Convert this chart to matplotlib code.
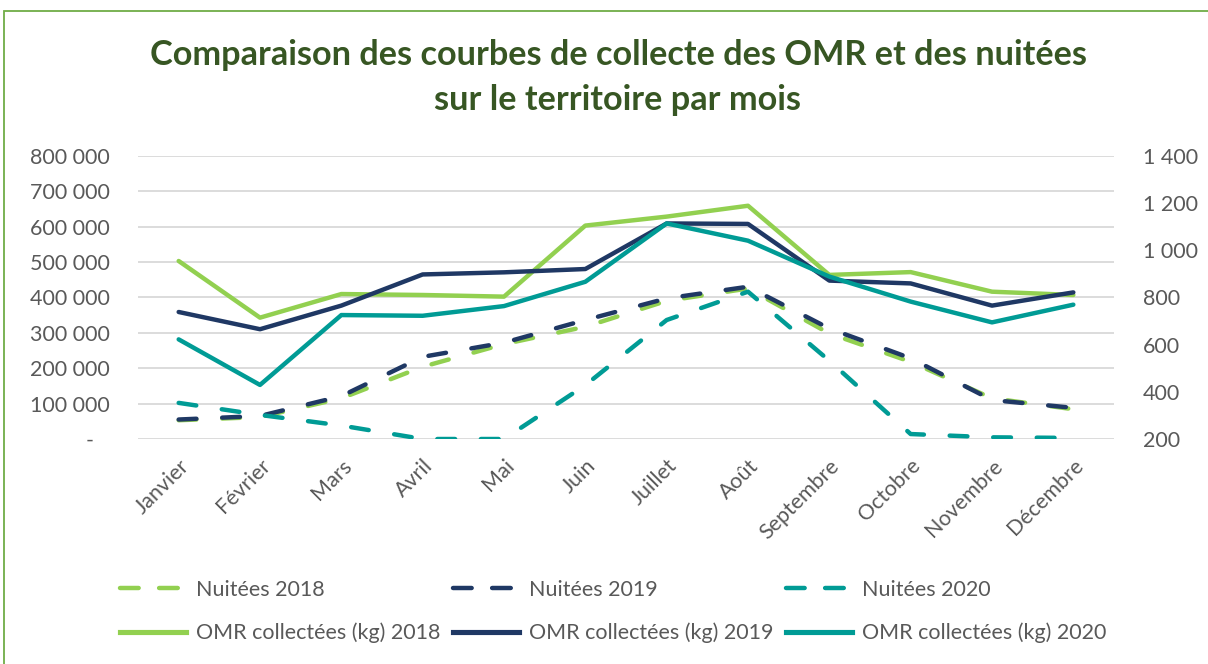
import numpy as np
import matplotlib.pyplot as plt
from matplotlib.lines import Line2D

plt.rcParams['font.family'] = ['Lato', 'DejaVu Sans']

mois = ["Janvier", "Février", "Mars", "Avril", "Mai", "Juin", "Juillet",
        "Août", "Septembre", "Octobre", "Novembre", "Décembre"]

# nuitées (axe de gauche)
nuitees_2018 = [53000, 62000, 115000, 204000, 268000, 317000, 390000,
                425000, 298000, 218000, 115000, 84000]
nuitees_2019 = [55000, 65000, 121000, 232000, 272000, 336000, 397000,
                430000, 312000, 228000, 110000, 88000]
nuitees_2020 = [102000, 68000, 38000, 0, 0, 152000, 336000,
                416000, 221000, 14000, 4700, 3000]

# OMR collectées (axe de droite)
omr_2018 = [954, 714, 814, 810, 803, 1104, 1142, 1188, 895, 907, 824, 810]
omr_2019 = [738, 665, 765, 897, 906, 920, 1113, 1111, 871, 859, 765, 821]
omr_2020 = [622, 429, 725, 722, 763, 866, 1113, 1040, 888, 782, 694, 769]

annees = ["2018", "2019", "2020"]
couleurs = ["#92D050", "#1F3864", "#009B95"]
gris = "#595959"

W, H = 1208, 664
fig = plt.figure(figsize=(W / 100, H / 100), dpi=100)

# cadre vert de la zone de graphique
fig.add_artist(plt.Rectangle((4 / W, -0.1), 1.2, 1 - 11 / H + 0.1,
                             transform=fig.transFigure, fill=False,
                             edgecolor="#70AD47", lw=1.3))

ax = fig.add_axes([138 / W, (H - 439) / H, (1114 - 138) / W, (439 - 155.7) / H])
ax2 = ax.twinx()

x = np.arange(len(mois))
dash = (4, 5.8)
for serie, c in zip([nuitees_2018, nuitees_2019, nuitees_2020], couleurs):
    ax.plot(x, serie, color=c, lw=3.2, dashes=dash, dash_capstyle="round", zorder=3)
for serie, c in zip([omr_2018, omr_2019, omr_2020], couleurs):
    ax2.plot(x, serie, color=c, lw=3.2, solid_capstyle="round",
             solid_joinstyle="round", zorder=3)

ax.set_xlim(-0.5, 11.5)
ax.set_ylim(0, 800000)
ax.set_yticks(np.arange(0, 800001, 100000))
ax.set_yticklabels(["-   " if v == 0 else f"{v:,}".replace(",", " ")
                    for v in range(0, 800001, 100000)])
ax2.set_ylim(200, 1400)
ax2.set_yticks(np.arange(200, 1401, 200))
ax2.set_yticklabels([f"{v:,}".replace(",", " ") for v in range(200, 1401, 200)])

ax.grid(axis="y", color="#D9D9D9", lw=1.3)
ax.set_axisbelow(True)
for a in (ax, ax2):
    for s in a.spines.values():
        s.set_visible(False)
    a.tick_params(length=0, labelsize=15.5, labelcolor=gris)
ax.tick_params(axis="y", pad=20)
ax2.tick_params(axis="y", pad=21)

ax.set_xticks(x)
ax.set_xticklabels(mois, rotation=45, ha="right", rotation_mode="anchor")
ax.tick_params(axis="x", pad=12)

fig.text(618 / W, 1 - 77.5 / H,
         "Comparaison des courbes de collecte des OMR et des nuitées\nsur le territoire par mois",
         ha="center", va="center", fontsize=24.7, fontweight="bold",
         color="#375623", linespacing=1.52)

# légende : une colonne par année
xs = [120, 453, 786]
for i in range(3):
    h = [Line2D([], [], color=couleurs[i], lw=3.2, dashes=(4.2, 4.6), dash_capstyle="round"),
         Line2D([], [], color=couleurs[i], lw=3.7)]
    fig.legend(h, ["Nuitées " + annees[i], "OMR collectées (kg) " + annees[i]],
               loc="upper left", bbox_to_anchor=(xs[i] / W, 1 - 580 / H),
               frameon=False, fontsize=15.5, labelcolor=gris,
               handlelength=3.05, handletextpad=0.5, labelspacing=1.05,
               borderpad=0, borderaxespad=0)

fig.savefig("out.png", dpi=100)
